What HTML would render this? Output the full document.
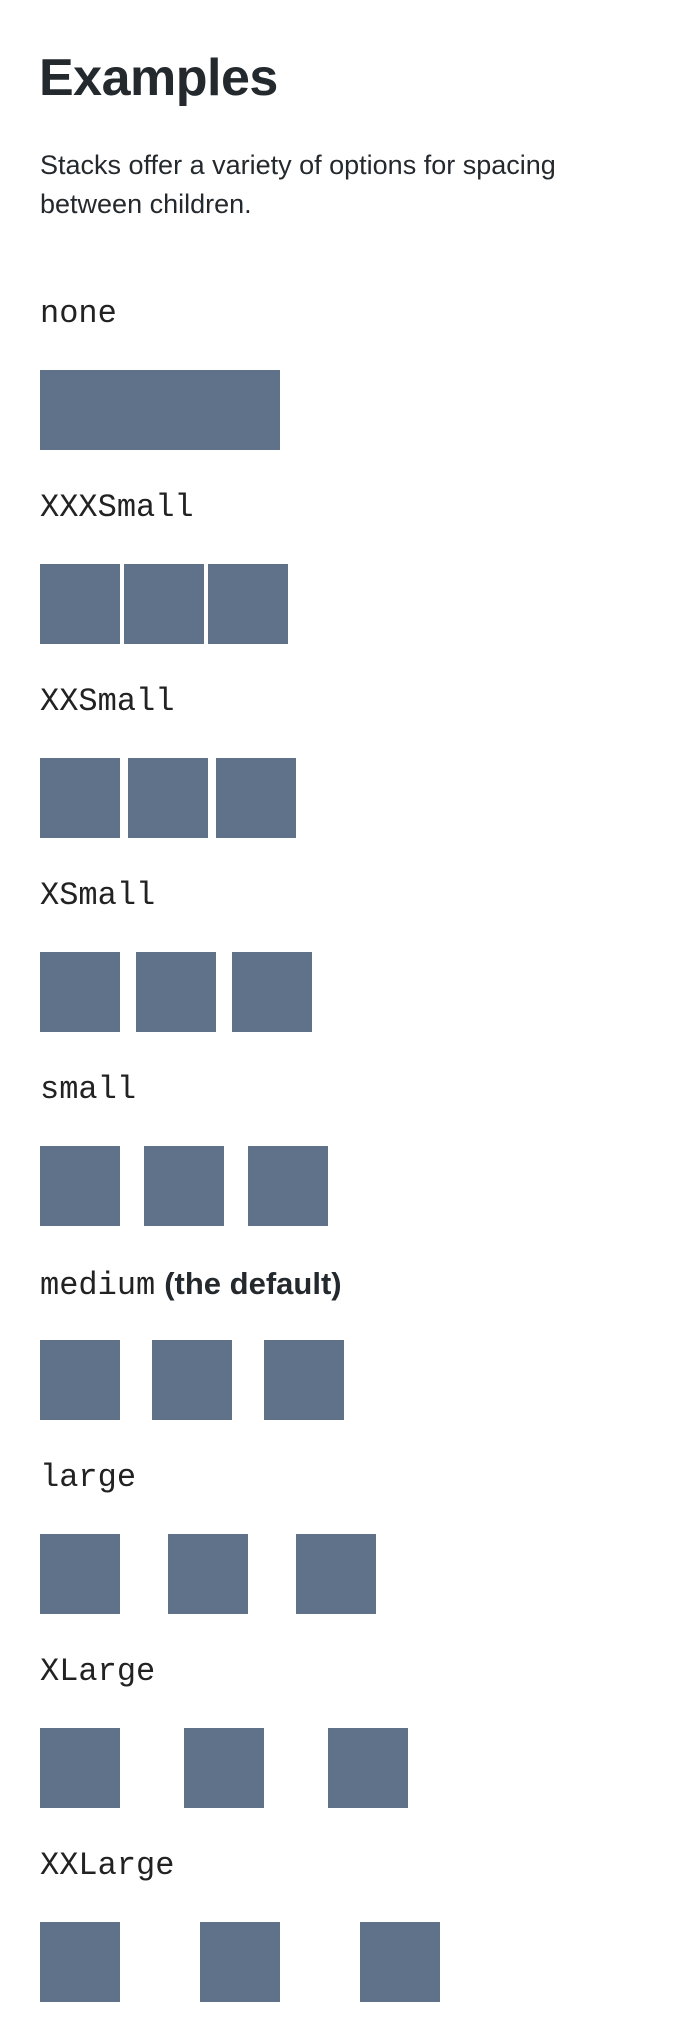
<!DOCTYPE html>
<html><head><meta charset="utf-8"><style>
html,body{margin:0;padding:0;background:#fff;width:686px;height:2042px;overflow:hidden;position:relative;color:#24292e}
.h{position:absolute;left:39px;top:51px;font:bold 52px/54px "Liberation Sans",sans-serif;margin:0;letter-spacing:-0.5px}
.p{position:absolute;left:40px;top:146px;font:27px/39px "Liberation Sans",sans-serif;width:640px;white-space:nowrap}
.l{position:absolute;left:40px;font:32px/32px "Liberation Mono",monospace;color:#222;white-space:nowrap}
.l b{font:bold 31px/32px "Liberation Sans",sans-serif;color:#24292e;margin-left:9px}
.r{position:absolute;left:40px;display:flex;height:80px}
.r div{width:80px;height:80px;background:#5f7289;flex:none}
</style></head><body>
<h1 class="h">Examples</h1>
<div class="p">Stacks offer a variety of options for spacing<br>between children.</div>

<div class="l" style="top:298px">none</div>
<div class="r" style="top:370px"><div style="width:240px"></div></div>

<div class="l" style="top:492px">XXXSmall</div>
<div class="r" style="top:564px;gap:4px"><div></div><div></div><div></div></div>

<div class="l" style="top:686px">XXSmall</div>
<div class="r" style="top:758px;gap:8px"><div></div><div></div><div></div></div>

<div class="l" style="top:880px">XSmall</div>
<div class="r" style="top:952px;gap:16px"><div></div><div></div><div></div></div>

<div class="l" style="top:1074px">small</div>
<div class="r" style="top:1146px;gap:24px"><div></div><div></div><div></div></div>

<div class="l" style="top:1268px">medium<b>(the default)</b></div>
<div class="r" style="top:1340px;gap:32px"><div></div><div></div><div></div></div>

<div class="l" style="top:1462px">large</div>
<div class="r" style="top:1534px;gap:48px"><div></div><div></div><div></div></div>

<div class="l" style="top:1656px">XLarge</div>
<div class="r" style="top:1728px;gap:64px"><div></div><div></div><div></div></div>

<div class="l" style="top:1850px">XXLarge</div>
<div class="r" style="top:1922px;gap:80px"><div></div><div></div><div></div></div>
</body></html>
